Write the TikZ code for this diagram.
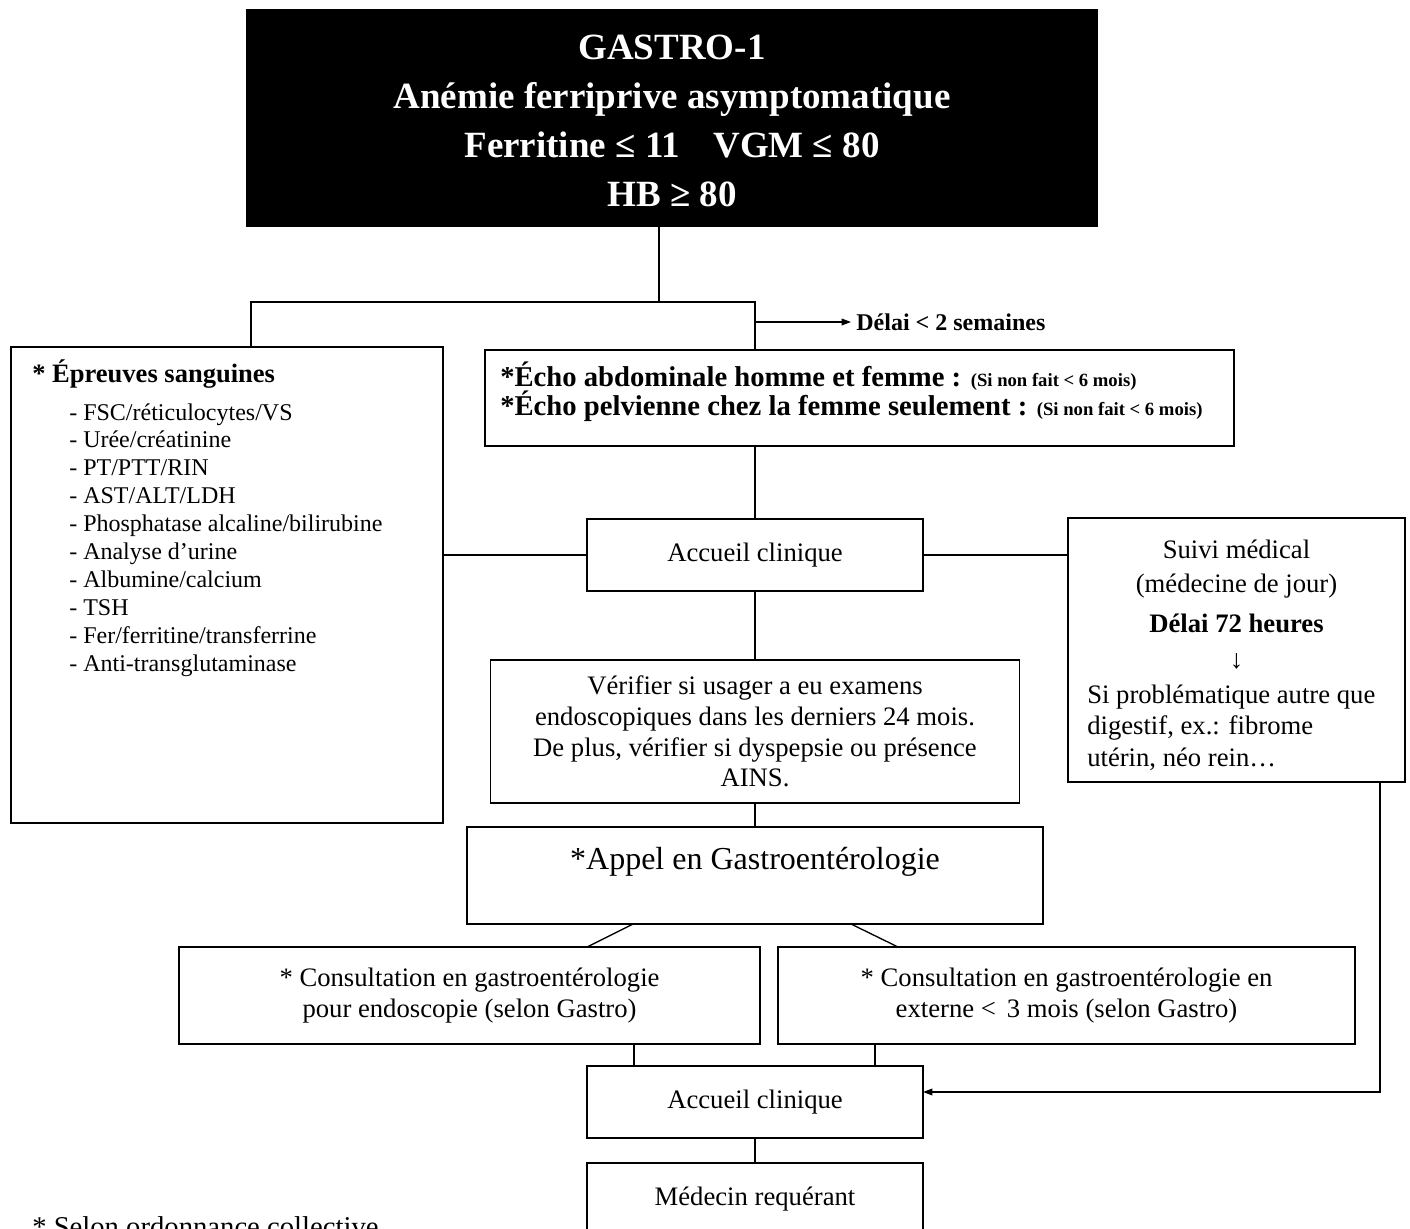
\documentclass[tikz,border=0pt]{standalone}
\usepackage{fontspec}
\setmainfont{Liberation Serif}
\usetikzlibrary{arrows.meta}
\newcommand{\pxu}{0.75pt}
\begin{document}
\begin{tikzpicture}[x=0.75pt,y=-0.75pt,
  box/.style={draw, line width=1.3pt, inner sep=0pt, outer sep=0pt},
  conn/.style={line width=1pt},
  arr/.style={line width=1pt, -{Triangle[length=7pt,width=5pt]}},
  body/.style={inner sep=0pt, font=\fontsize{20}{23}\selectfont},
  listtxt/.style={inner sep=0pt, anchor=base west, font=\fontsize{18}{20.6}\selectfont},
  titletxt/.style={inner sep=0pt, text=white, align=center, font=\bfseries\fontsize{27.75}{36.75}\selectfont},
  echotxt/.style={inner sep=0pt, anchor=base west, font=\bfseries\fontsize{21.5}{24}\selectfont}]
\useasboundingbox (0,0) rectangle (1410,1228);

% Title
\node[box, fill=black, minimum width=850*\pxu, minimum height=216*\pxu] (title) at (672,118) {};
\node[titletxt] (ttl) at (672,121) {GASTRO-1\\Anémie ferriprive asymptomatique\\Ferritine ≤ 11\hspace{0.9em}VGM ≤ 80\\HB ≥ 80};

% Left box
\node[box, minimum width=432*\pxu, minimum height=476*\pxu] (lbox) at (227,585) {};
\node[inner sep=0pt, anchor=base west, font=\bfseries\fontsize{19.9}{23}\selectfont] (lhead) at (32,382) {* Épreuves sanguines};
\foreach \t [count=\i] in {- FSC/réticulocytes/VS, - Urée/créatinine, - PT/PTT/RIN, - AST/ALT/LDH, - Phosphatase alcaline/bilirubine, - Analyse d’urine, - Albumine/calcium, - TSH, - Fer/ferritine/transferrine, - Anti-transglutaminase}
  \node[listtxt] (l\i) at (69,{420+27.9*(\i-1)}) {\t};

% Echo box
\node[box, minimum width=749*\pxu, minimum height=96*\pxu] (echo) at (859.5,398) {};
\node[echotxt] (e1) at (500,386) {*Écho abdominale homme et femme : {\fontsize{14}{16}\selectfont(Si non fait < 6 mois)}};
\node[echotxt] (e2) at (500,415) {*Écho pelvienne chez la femme seulement : {\fontsize{14}{16}\selectfont(Si non fait < 6 mois)}};

% Délai
\node[inner sep=0pt, outer sep=4pt, anchor=west, font=\bfseries\fontsize{18}{21}\selectfont] (delai) at (851,322) {Délai < 2 semaines};

% Accueil 1
\node[box, body, minimum width=336*\pxu, minimum height=72*\pxu] (acc1) at (755,555) {Accueil clinique};

% Suivi
\node[box, minimum width=337*\pxu, minimum height=264*\pxu] (suivi) at (1236.5,650) {};
\node[body] (s1) at (1236.5,549) {Suivi médical};
\node[body] (s2) at (1236.5,586) {(médecine de jour)};
\node[body, font=\bfseries\fontsize{20}{23}\selectfont] (s3) at (1236.5,623) {Délai 72 heures};
\node[body] (s4) at (1236.5,661) {↓};
\node[body, anchor=west] (s5) at (1087,697) {Si problématique autre que};
\node[body, anchor=west] (s6) at (1087,728) {digestif, ex.: fibrome};
\node[body, anchor=west] (s7) at (1087,759) {utérin, néo rein…};

% Vérifier
\node[box, body, align=center, minimum width=529*\pxu, minimum height=143*\pxu] (verif) at (755,731.5) {Vérifier si usager a eu examens\\endoscopiques dans les derniers 24 mois.\\De plus, vérifier si dyspepsie ou présence\\AINS.};

% Appel
\node[box, minimum width=576*\pxu, minimum height=97*\pxu] (appel) at (755,875.5) {};
\node[inner sep=0pt, font=\fontsize{24}{28}\selectfont] (appeltxt) at (755,862) {*Appel en Gastroentérologie};

% Consultations
\node[box, body, align=center, minimum width=581*\pxu, minimum height=97*\pxu] (cons1) at (469.5,995.5) {* Consultation en gastroentérologie\\pour endoscopie (selon Gastro)};
\node[box, body, align=center, minimum width=577*\pxu, minimum height=97*\pxu] (cons2) at (1066.5,995.5) {* Consultation en gastroentérologie en\\externe <\, 3 mois (selon Gastro)};

% Accueil 2
\node[box, body, minimum width=336*\pxu, minimum height=72*\pxu] (acc2) at (755,1102) {Accueil clinique};

% Médecin requérant (cut by page edge)
\node[box, minimum width=336*\pxu, minimum height=110*\pxu] (med) at (755,1218) {};
\node[body] (medtxt) at (755,1199) {Médecin requérant};

% Footnote (cut by page edge, as in the reference)
\node[inner sep=0pt, anchor=base west, font=\fontsize{21.5}{25}\selectfont] (selon) at (32,1236) {* Selon ordonnance collective};

% Connectors
\coordinate (jc) at (659,302);
\coordinate (jl) at (251,302);
\coordinate (jr) at (755,302);
\coordinate (ja) at (755,322);
\draw[conn] (jc |- title.south) -- (jc);
\draw[conn] (jl |- lbox.north) -- (jl) -- (jr) -- (jr |- echo.north);
\draw[arr] (ja) -- (delai.west);
\draw[conn] (echo.south -| acc1.north) -- (acc1.north);
\draw[conn] (acc1.west -| lbox.east) -- (acc1.west);
\draw[conn] (acc1.east) -- (acc1.east -| suivi.west);
\draw[conn] (acc1.south) -- (verif.north);
\draw[conn] (verif.south) -- (appel.north);
\coordinate (d1a) at (633,924);
\coordinate (d1b) at (587,947);
\coordinate (d2a) at (851,924);
\coordinate (d2b) at (898,947);
\draw[conn] (d1a |- appel.south) -- (d1b |- cons1.north);
\draw[conn] (d2a |- appel.south) -- (d2b |- cons2.north);
\coordinate (v1) at (634,1050);
\coordinate (v2) at (875,1050);
\draw[conn] (v1 |- cons1.south) -- (v1 |- acc2.north);
\draw[conn] (v2 |- cons2.south) -- (v2 |- acc2.north);
\coordinate (ar) at (1380,1092);
\draw[arr] (ar |- suivi.south) -- (ar) -- (ar -| acc2.east);
\draw[conn] (acc2.south) -- (med.north);
\end{tikzpicture}
\end{document}
